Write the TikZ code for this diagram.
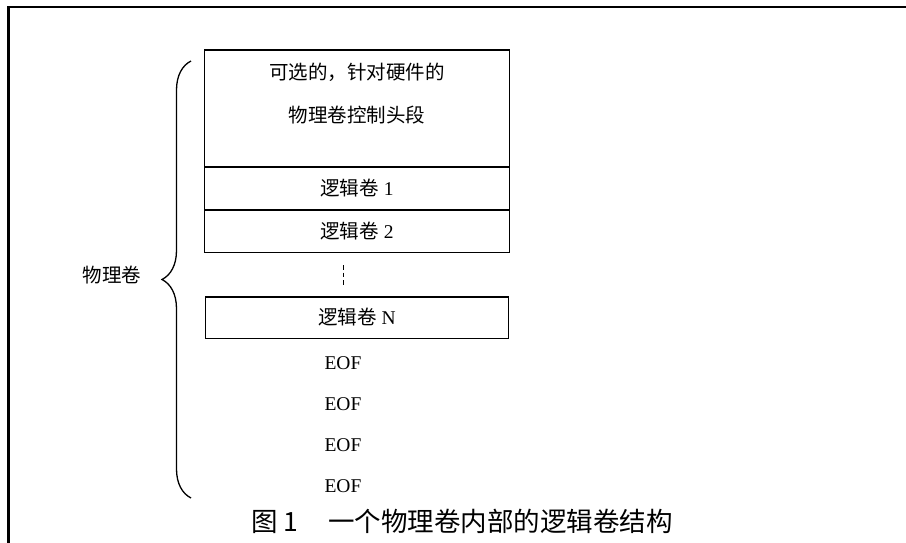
\documentclass[tikz,border=0pt]{standalone}
\usepackage{fontspec}
\usepackage{tikz}
\usetikzlibrary{decorations.pathreplacing}
\setmainfont{Liberation Serif}
\newfontfamily\cjk{Noto Sans CJK SC}
\newfontfamily\capfont{Noto Sans CJK SC}
\tikzset{
  lvtext/.style={font=\fontsize{19.5}{23}\selectfont, inner sep=0pt},
  lvbox/.style={draw, line width=1.5pt, minimum width=305pt, minimum height=42.5pt, inner sep=0pt, font=\fontsize{19.5}{23}\selectfont}
}

\begin{document}
\begin{tikzpicture}[x=1pt,y=-1pt]
\useasboundingbox (0,0) rectangle (906,542);
% Frame (top and left only)
\draw[line width=2.4pt] (910,7) -- (8.5,7) -- (8.5,546);

% Control header
\node[lvbox, minimum height=117pt] (ctl) at (357,108.5) {};
\node[lvtext] (ctla) at (357,72) {\cjk 可选的，针对硬件的};
\node[lvtext] (ctlb) at (357,115) {\cjk 物理卷控制头段};

% Logical volumes
\node[lvbox] (lv1) at (357,188.5) {{\cjk 逻辑卷} 1};
\node[lvbox] (lv2) at (357,231) {{\cjk 逻辑卷} 2};
\coordinate (dota) at (343,265);
\coordinate (dotb) at (343,285);
\draw[line width=1pt, dash pattern=on 4.5pt off 3pt] (dota) -- (dotb);
\node[lvbox, minimum width=303pt, minimum height=41.5pt] (lvn) at (357,317.5) {{\cjk 逻辑卷} N};

% EOF marks
\foreach \y [count=\i] in {363,404,445,486} {
    \node[lvtext] (eof\i) at (343,\y) {EOF};
}

% Brace
\coordinate (bbot) at (191,498);
\coordinate (btop) at (191,61);
\draw[line width=1.3pt, decorate, decoration={brace, amplitude=29pt}] (bbot) -- (btop);
\node[lvtext] (pv) at (112,275) {\cjk 物理卷};

% Caption
\node[font=\capfont\fontsize{26.5}{30}\selectfont, inner sep=0pt] (cap) at (462,521) {图 1\hspace{30pt}一个物理卷内部的逻辑卷结构};
\end{tikzpicture}
\end{document}
